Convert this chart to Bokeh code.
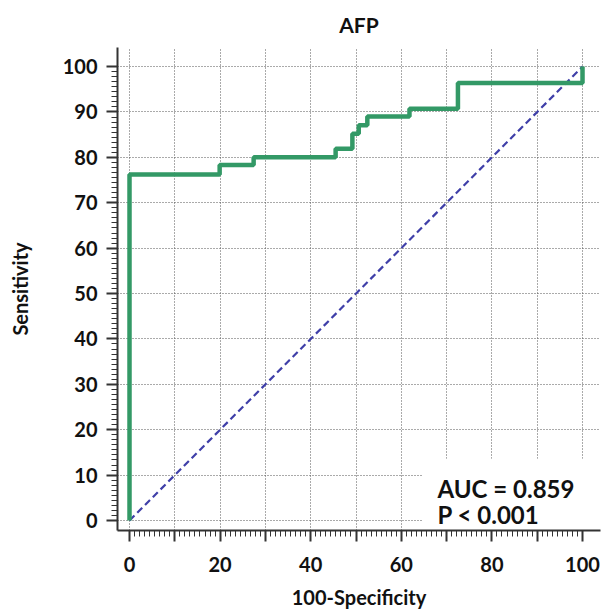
from bokeh.plotting import figure
from bokeh.models import Range1d, FixedTicker, Label, BoxAnnotation
from bokeh.embed import file_html
from bokeh.resources import INLINE

# ROC curve corners (100-Specificity, Sensitivity), step "after"
fpr = [0, 0, 19.9, 27.4, 45.5, 49.2, 50.6, 52.5, 61.8, 72.5, 100]
tpr = [0, 76.2, 78.3, 80.0, 81.9, 85.2, 87.1, 89.0, 90.7, 96.4, 100]
diag_x = [0, 100]
diag_y = [0, 100]
title_text = "AFP"
x_title = "100-Specificity"
y_title = "Sensitivity"
auc_text = "AUC = 0.859"
p_text = "P < 0.001"
major_ticks = [0, 10, 20, 30, 40, 50, 60, 70, 80, 90, 100]
x_tick_labels = {10: "", 30: "", 50: "", 70: "", 90: ""}

FONT = "Lato"
minor = [i * 10 + j * 10 / 9 for i in range(10) for j in range(1, 9)]

p = figure(frame_width=483, frame_height=483,
           min_border_left=117, min_border_top=47, min_border_right=4, min_border_bottom=78,
           x_range=Range1d(-2.65, 103.97), y_range=Range1d(-2.2, 104.2),
           output_backend="svg", toolbar_location=None, title=title_text)
p.outline_line_color = None
p.background_fill_color = "white"
p.border_fill_color = "white"

p.title.align = "center"
p.title.vertical_align = "top"
p.title.standoff = 18
p.title.text_font = FONT
p.title.text_font_size = "21px"
p.title.text_font_style = "bold"
p.title.text_color = "#111111"

for ax, lbl in ((p.xaxis[0], x_title), (p.yaxis[0], y_title)):
    ax.ticker = FixedTicker(ticks=major_ticks, minor_ticks=minor)
    ax.axis_label = lbl
    ax.axis_label_text_font = FONT
    ax.axis_label_text_font_size = "20px"
    ax.axis_label_text_font_style = "bold"
    ax.axis_label_text_color = "#111111"
    ax.major_label_text_font = FONT
    ax.major_label_text_font_size = "20px"
    ax.major_label_text_font_style = "bold"
    ax.major_label_text_color = "#111111"
    ax.axis_line_color = "#333333"
    ax.axis_line_width = 2
    ax.major_tick_line_color = "#333333"
    ax.major_tick_line_width = 2
    ax.minor_tick_line_color = "#333333"
    ax.minor_tick_line_width = 1
    ax.major_tick_in = 0
    ax.minor_tick_in = 0
    ax.major_tick_out = 11
    ax.minor_tick_out = 6

p.xaxis[0].major_label_overrides = x_tick_labels
p.xaxis[0].major_label_standoff = 15
p.xaxis[0].axis_label_standoff = 10
p.yaxis[0].major_label_standoff = 9
p.yaxis[0].axis_label_standoff = 28

for g in (p.xgrid[0], p.ygrid[0]):
    g.ticker = FixedTicker(ticks=major_ticks)
    g.grid_line_color = "#555555"
    g.grid_line_width = 1
    g.grid_line_dash = "1 2"

p.line(diag_x, diag_y, line_color="#3f3fa8", line_width=2.2, line_dash="7 4")
p.step(fpr, tpr, mode="after", line_color="#339966", line_width=4.5)

box = BoxAnnotation(left=64.7, top=13.6, fill_color="white", fill_alpha=1.0,
                    line_alpha=0, level="underlay")
p.add_layout(box)

for t, yv in ((auc_text, 7.1), (p_text, 1.25)):
    p.add_layout(Label(x=68.0, y=yv, text=t, text_font=FONT, text_font_size="24px",
                       text_font_style="bold", text_color="#111111",
                       text_baseline="alphabetic"))

open("out.html", "w").write(file_html(p, INLINE))
